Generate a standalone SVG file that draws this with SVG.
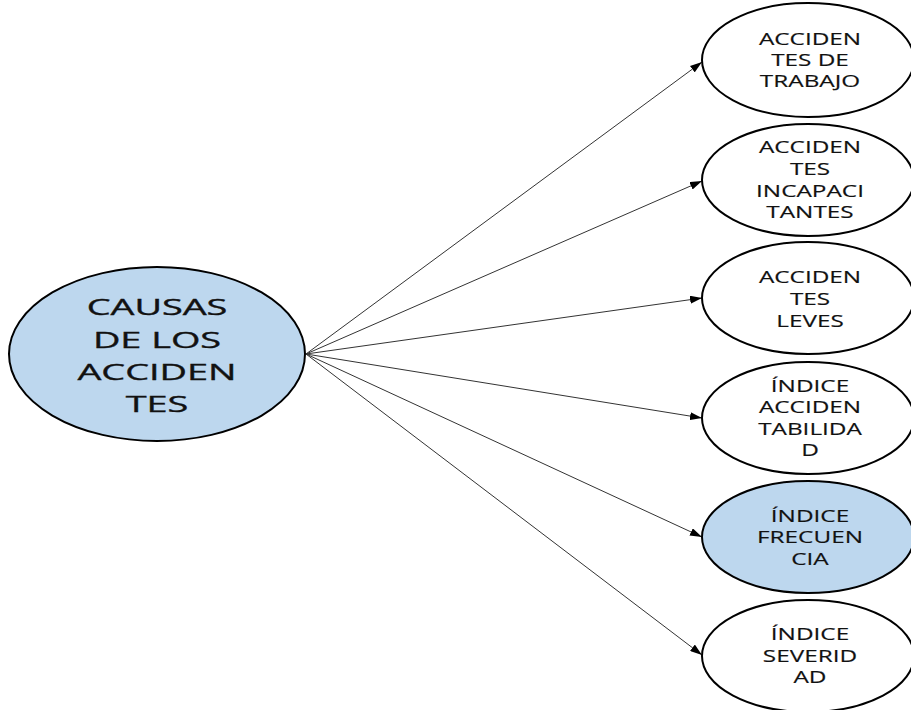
<svg xmlns="http://www.w3.org/2000/svg" width="911" height="710" viewBox="0 0 911 710">
<style>
.n{stroke:#000;stroke-width:2}
.w{fill:#fff}
.b{fill:#bdd7ee}
.t{font-family:"Open Sans","DejaVu Sans",sans-serif;fill:#111;stroke:#111;text-anchor:middle}
.big{font-size:22px;stroke-width:0.35}
.sm{font-size:16px;stroke-width:0.15}
.c{stroke:#333;stroke-width:1;fill:none;marker-end:url(#ah)}
</style>
<defs>
<marker id="ah" viewBox="0 0 12 8" refX="12" refY="4" markerWidth="12" markerHeight="8" markerUnits="userSpaceOnUse" orient="auto">
<path d="M0,0 L12,4 L0,8 z" fill="#000"/>
</marker>
</defs>
<rect width="911" height="710" fill="#fff"/>
<g id="connectors">
<line class="c" x1="306" y1="354" x2="702" y2="62"/>
<line class="c" x1="306" y1="354" x2="702" y2="181"/>
<line class="c" x1="306" y1="354" x2="702" y2="298"/>
<line class="c" x1="306" y1="354" x2="702" y2="418"/>
<line class="c" x1="306" y1="354" x2="702" y2="537"/>
<line class="c" x1="306" y1="354" x2="702" y2="655"/>
</g>
<g id="main">
<ellipse class="n b" cx="157" cy="354" rx="148" ry="87"/>
<g transform="translate(157,0) scale(1.72,1)"><text class="t big"><tspan x="0" y="315">CAUSAS</tspan><tspan x="0" y="348">DE LOS</tspan><tspan x="0" y="380">ACCIDEN</tspan><tspan x="0" y="412">TES</tspan></text></g>
</g>
<g id="n1">
<ellipse class="n w" cx="808" cy="60" rx="106" ry="57"/>
<g transform="translate(810,0) scale(1.52,1)"><text class="t sm"><tspan x="0" y="45">ACCIDEN</tspan><tspan x="0" y="66">TES DE</tspan><tspan x="0" y="87">TRABAJO</tspan></text></g>
</g>
<g id="n2">
<ellipse class="n w" cx="808" cy="180" rx="106" ry="56"/>
<g transform="translate(810,0) scale(1.52,1)"><text class="t sm"><tspan x="0" y="153">ACCIDEN</tspan><tspan x="0" y="175">TES</tspan><tspan x="0" y="197">INCAPACI</tspan><tspan x="0" y="218">TANTES</tspan></text></g>
</g>
<g id="n3">
<ellipse class="n w" cx="808" cy="298" rx="106" ry="56"/>
<g transform="translate(810,0) scale(1.52,1)"><text class="t sm"><tspan x="0" y="283">ACCIDEN</tspan><tspan x="0" y="305">TES</tspan><tspan x="0" y="327">LEVES</tspan></text></g>
</g>
<g id="n4">
<ellipse class="n w" cx="808" cy="418" rx="106" ry="56"/>
<g transform="translate(810,0) scale(1.52,1)"><text class="t sm"><tspan x="0" y="392">ÍNDICE</tspan><tspan x="0" y="413">ACCIDEN</tspan><tspan x="0" y="435">TABILIDA</tspan><tspan x="0" y="456">D</tspan></text></g>
</g>
<g id="n5">
<ellipse class="n b" cx="808" cy="537" rx="106" ry="56"/>
<g transform="translate(810,0) scale(1.52,1)"><text class="t sm"><tspan x="0" y="522">ÍNDICE</tspan><tspan x="0" y="543">FRECUEN</tspan><tspan x="0" y="565">CIA</tspan></text></g>
</g>
<g id="n6">
<ellipse class="n w" cx="808" cy="656" rx="106" ry="56"/>
<g transform="translate(810,0) scale(1.52,1)"><text class="t sm"><tspan x="0" y="640">ÍNDICE</tspan><tspan x="0" y="662">SEVERID</tspan><tspan x="0" y="683">AD</tspan></text></g>
</g>
</svg>
